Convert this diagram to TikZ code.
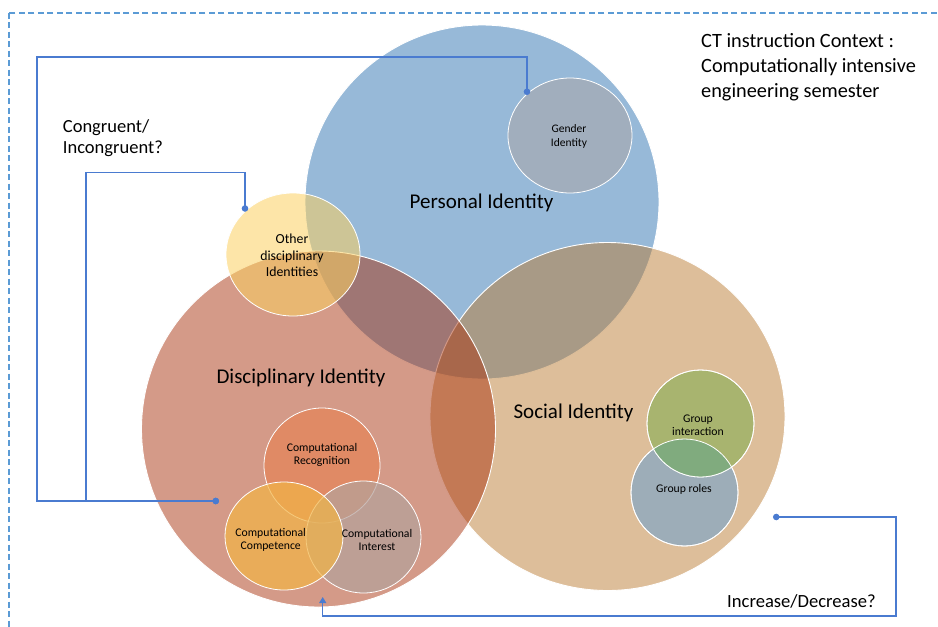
\documentclass[tikz,border=0pt]{standalone}
\usepackage{fontspec}
\setmainfont{Carlito}
\usetikzlibrary{shapes.geometric,arrows.meta}

% base colours (the large circles are laid at half opacity)
\definecolor{personalblue}{RGB}{47,115,177}
\definecolor{socialtan}{RGB}{187,125,53}
\definecolor{discred}{RGB}{169,53,17}
\definecolor{otheryellow}{RGB}{251,208,97}
\definecolor{genderfill}{RGB}{161,174,189}
\definecolor{recogfill}{RGB}{229,133,87}
\definecolor{interestfill}{RGB}{181,162,156}
\definecolor{competfill}{RGB}{242,180,70}
\definecolor{rolesfill}{RGB}{157,173,184}
\definecolor{interactfill}{RGB}{168,180,111}
\definecolor{groupboth}{RGB}{128,171,126}
\definecolor{linkblue}{RGB}{74,123,208}
\definecolor{frameblue}{RGB}{91,155,213}

\tikzset{
  venn/.style={ellipse, draw=white, line width=0.9pt, fill opacity=0.5,
    inner sep=0pt, outer sep=0pt},
  inner/.style={ellipse, draw=white, line width=0.8pt,
    inner sep=0pt, outer sep=0pt},
  biglabel/.style={anchor=base, font=\fontsize{21}{25}\selectfont, inner sep=0pt},
  sidelabel/.style={anchor=base west, inner sep=0pt},
  smalllabel/.style={align=center, font=\fontsize{11.7}{12.6}\selectfont, inner sep=0pt},
  link/.style={draw=linkblue, line width=1.2pt},
  frameline/.style={draw=frameblue, line width=2pt, dash pattern=on 6pt off 3.5pt},
}

\begin{document}
\begin{tikzpicture}[x=1pt,y=-1pt]
\useasboundingbox (0,0) rectangle (938,627);

% outer dashed frame, running past the right and bottom edges
\begin{scope}
  \clip (0,0) rectangle (938,627);
  \draw[frameline] (9.3,12.7) rectangle (975,665);
\end{scope}

% the three identities
\node[venn, fill=personalblue, minimum width=354pt, minimum height=354pt] (personal) at (482,202) {};
\node[venn, fill=socialtan, minimum width=355pt, minimum height=348pt] (social) at (607.5,416.5) {};
\node[venn, fill=discred, minimum width=354pt, minimum height=356pt] (disc) at (318.5,429) {};

% sub-identities
\node[inner, fill=otheryellow, fill opacity=0.55, minimum width=134pt, minimum height=123pt] (other) at (293,254.5) {};
\node[inner, fill=genderfill, minimum width=124pt, minimum height=115pt] (gender) at (570,135.5) {};

\node[inner, fill=recogfill, fill opacity=0.7, minimum width=116pt, minimum height=115pt] (recog) at (322,465.5) {};
\node[inner, fill=interestfill, fill opacity=0.7, minimum width=115pt, minimum height=112pt] (interest) at (363.5,537) {};
\node[inner, fill=competfill, fill opacity=0.7, minimum width=118pt, minimum height=108pt] (compet) at (284,536) {};

\node[inner, fill=rolesfill, minimum size=107pt] (roles) at (684.5,492.5) {};
\node[inner, fill=interactfill, minimum size=107pt] (interact) at (700.5,423.5) {};
\begin{scope}
  \clip (roles.center) circle[radius=53.5pt];
  \fill[groupboth] (interact.center) circle[radius=53.5pt];
\end{scope}
\draw[white, line width=0.8pt] (roles.center) circle[radius=53.5pt];
\draw[white, line width=0.8pt] (interact.center) circle[radius=53.5pt];

% labels
\node[biglabel] (personalText) at (481.5,208.3) {Personal Identity};
\node[biglabel] (discText) at (301,383.3) {Disciplinary Identity};
\node[biglabel] (socialText) at (573.5,418.3) {Social Identity};

\node[smalllabel, font=\fontsize{13.8}{16.5}\selectfont] (otherText) at (292,255.5) {Other\\disciplinary\\Identities};
\node[smalllabel, font=\fontsize{11.5}{13.4}\selectfont] (genderText) at (569,136.5) {Gender\\Identity};
\node[smalllabel] (recogText) at (322,455) {Computational\\Recognition};
\node[smalllabel] (competText) at (270.7,540) {Computational\\Competence};
\node[smalllabel] (interestText) at (377,540) {Computational\\Interest};
\node[smalllabel] (interactText) at (698,425.5) {Group\\interaction};
\node[smalllabel] (rolesText) at (684,489) {Group roles};

\node[sidelabel, font=\fontsize{20.3}{25}\selectfont] (ctxA) at (701,47.7) {CT instruction Context :};
\node[sidelabel, font=\fontsize{20.3}{25}\selectfont] (ctxB) at (701,72.7) {Computationally intensive};
\node[sidelabel, font=\fontsize{20.3}{25}\selectfont] (ctxC) at (701,97.5) {engineering semester};

\node[sidelabel, font=\fontsize{18.5}{21}\selectfont] (congA) at (62.7,132.7) {Congruent/};
\node[sidelabel, font=\fontsize{18.5}{21}\selectfont] (congB) at (62.7,153.3) {Incongruent?};
\node[sidelabel, font=\fontsize{18.6}{21}\selectfont] (incdec) at (727,607.7) {Increase/Decrease?};

% connector ends
\coordinate (genderDot) at (527,95);
\coordinate (otherDot) at (245,211.7);
\coordinate (discDot) at (219,501);
\coordinate (socialDot) at (773,517);
\coordinate (discTip) at (322.7,597);
\coordinate (outerBend) at (37,57);
\coordinate (innerBend) at (86,172.7);
\coordinate (lowBend) at (896,616);

% connectors
\draw[link, {Circle[length=6.5pt]}-{Circle[length=6.5pt]}] (genderDot) |- (outerBend) |- (discDot);
\draw[link, {Circle[length=6.5pt]}-{Circle[length=6.5pt]}] (otherDot) |- (innerBend) |- (discDot);
\draw[link, {Circle[length=6.5pt]}-{Triangle[width=7pt,length=6pt]}] (socialDot) -| (lowBend) -| (discTip);
\end{tikzpicture}
\end{document}
